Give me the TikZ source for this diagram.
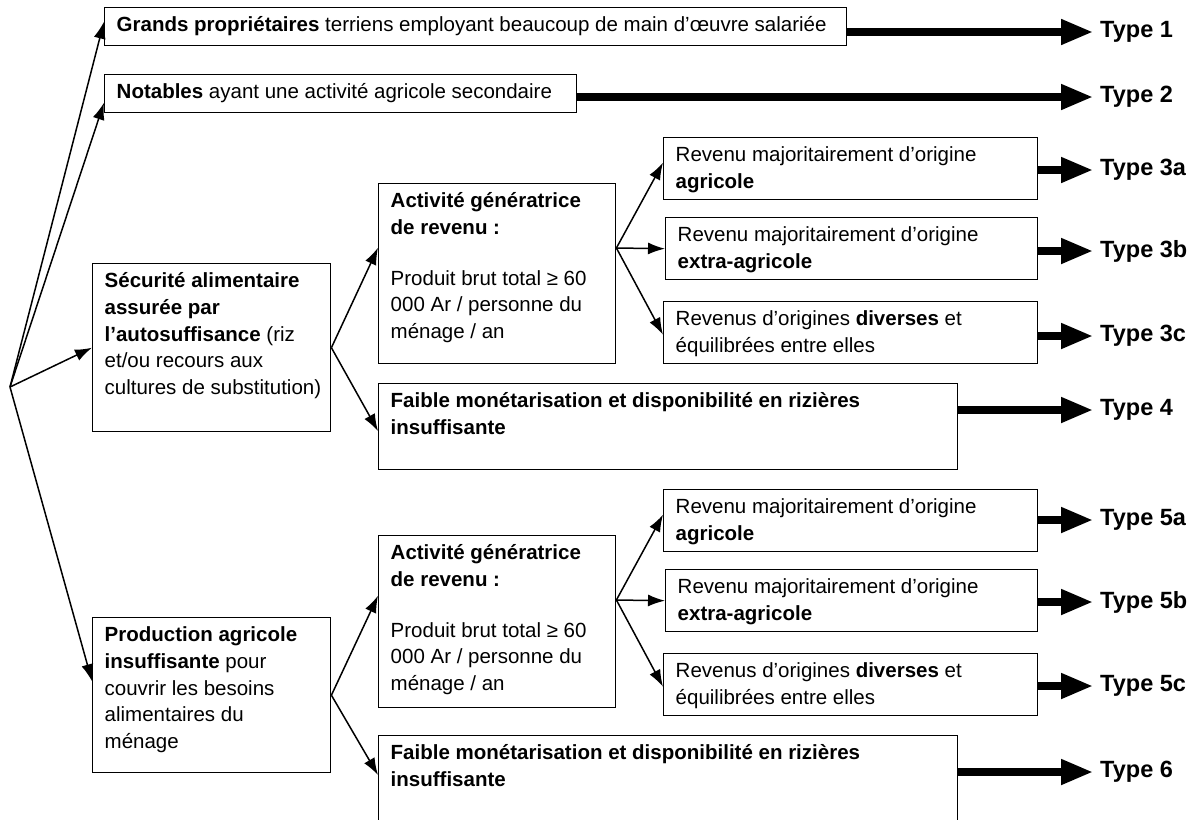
\documentclass[tikz,border=0pt]{standalone}
\usepackage{fontspec}
\setmainfont{Liberation Sans}
\usetikzlibrary{arrows.meta}

% top aligned text inside a box of fixed size
\newcommand{\cellbox}[3]{\parbox[t][#2][t]{#1}{\raggedright\rule{0pt}{19pt}#3}}

\begin{document}
\begin{tikzpicture}[x=1pt, y=-1pt,
    box/.style={draw, line width=1.4pt, anchor=north west, inner xsep=12pt, inner ysep=5pt,
        font=\fontsize{20.5}{26.7}\selectfont},
    branch/.style={-{Latex[length=17pt,width=12pt]}, line width=1.5pt},
    fat/.style={-{Triangle[length=32pt,width=24pt]}, line width=7.5pt},
    typelabel/.style={anchor=west, inner sep=0pt, font=\bfseries\fontsize{23.5}{28}\selectfont}]
    \useasboundingbox (0,0) rectangle (1198,819);

    \coordinate (root) at (10,387);

    \node[box] (grands) at (104,7) {\cellbox{718pt}{28pt}{\textbf{Grands propriétaires} terriens employant beaucoup de main d’œuvre salariée}};
    \node[box] (notables) at (104,74) {\cellbox{448pt}{28pt}{\textbf{Notables} ayant une activité agricole secondaire}};

    \node[box] (secu) at (92,263) {\cellbox{214pt}{158pt}{\textbf{Sécurité alimentaire}\\ \textbf{assurée par}\\ \textbf{l’autosuffisance} (riz\\ et/ou recours aux\\ \mbox{cultures de substitution)}}};
    \node[box] (prod) at (92,617) {\cellbox{214pt}{145pt}{\textbf{Production agricole}\\ \textbf{insuffisante} pour\\ couvrir les besoins\\ alimentaires du\\ ménage}};

    \node[box] (act1) at (378,183) {\cellbox{213pt}{170pt}{\textbf{Activité génératrice}\\ \textbf{de revenu~:}\\[24pt] Produit brut total ≥ 60\\ 000 Ar / personne du\\ ménage / an}};
    \node[box] (faible1) at (378,383) {\cellbox{555pt}{76pt}{\textbf{Faible monétarisation et disponibilité en rizières}\\ \textbf{insuffisante}}};
    \node[box] (act2) at (378,535) {\cellbox{213pt}{162pt}{\textbf{Activité génératrice}\\ \textbf{de revenu~:}\\[24pt] Produit brut total ≥ 60\\ 000 Ar / personne du\\ ménage / an}};
    \node[box] (faible2) at (378,735) {\cellbox{555pt}{100pt}{\textbf{Faible monétarisation et disponibilité en rizières}\\ \textbf{insuffisante}}};

    \node[box] (rev3a) at (663,137) {\cellbox{350pt}{52pt}{Revenu majoritairement d’origine\\ \textbf{agricole}}};
    \node[box] (rev3b) at (665,217) {\cellbox{348pt}{52pt}{Revenu majoritairement d’origine\\ \textbf{extra-agricole}}};
    \node[box] (rev3c) at (663,301) {\cellbox{350pt}{52pt}{Revenus d’origines \textbf{diverses} et\\ équilibrées entre elles}};
    \node[box] (rev5a) at (663,489) {\cellbox{350pt}{52pt}{Revenu majoritairement d’origine\\ \textbf{agricole}}};
    \node[box] (rev5b) at (665,569) {\cellbox{348pt}{52pt}{Revenu majoritairement d’origine\\ \textbf{extra-agricole}}};
    \node[box] (rev5c) at (663,653) {\cellbox{350pt}{52pt}{Revenus d’origines \textbf{diverses} et\\ équilibrées entre elles}};

    \node[typelabel] (t1) at (1100,32) {Type 1};
    \node[typelabel] (t2) at (1100,97) {Type 2};
    \node[typelabel] (t3a) at (1100,170) {Type 3a};
    \node[typelabel] (t3b) at (1100,251) {Type 3b};
    \node[typelabel] (t3c) at (1100,336) {Type 3c};
    \node[typelabel] (t4) at (1100,410) {Type 4};
    \node[typelabel] (t5a) at (1100,520) {Type 5a};
    \node[typelabel] (t5b) at (1100,602) {Type 5b};
    \node[typelabel] (t5c) at (1100,686) {Type 5c};
    \node[typelabel] (t6) at (1100,772) {Type 6};

    % root -> first level
    \draw[branch] (root) -- ([yshift=5pt]grands.west);
    \draw[branch] (root) -- ([yshift=-9pt]notables.west);
    \draw[branch] (root) -- (secu.west);
    \draw[branch] (root) -- ([yshift=14pt]prod.west);

    % secu -> act1, faible1
    \draw[branch] (secu.east) -- ([yshift=26pt]act1.west);
    \draw[branch] (secu.east) -- ([yshift=-48pt]faible1.north west);

    % prod -> act2, faible2
    \draw[branch] (prod.east) -- ([yshift=26pt]act2.west);
    \draw[branch] (prod.east) -- ([yshift=-40pt]faible2.north west);

    % act1 -> 3a, 3b, 3c
    \coordinate (b1) at ([yshift=-65pt]act1.north east);
    \draw[branch] (b1) -- ([yshift=6pt]rev3a.west);
    \draw[branch] (b1) -- (rev3b.west);
    \draw[branch] (b1) -- ([yshift=-2pt]rev3c.west);

    % act2 -> 5a, 5b, 5c
    \coordinate (b2) at ([yshift=-65pt]act2.north east);
    \draw[branch] (b2) -- ([yshift=6pt]rev5a.west);
    \draw[branch] (b2) -- (rev5b.west);
    \draw[branch] (b2) -- ([yshift=-2pt]rev5c.west);

    % boxes -> types
    \draw[fat] (grands.east |- t1.west) -- ([xshift=-7pt]t1.west);
    \draw[fat] (notables.east |- t2.west) -- ([xshift=-7pt]t2.west);
    \draw[fat] (rev3a.east |- t3a.west) -- ([xshift=-7pt]t3a.west);
    \draw[fat] (rev3b.east |- t3b.west) -- ([xshift=-7pt]t3b.west);
    \draw[fat] (rev3c.east |- t3c.west) -- ([xshift=-7pt]t3c.west);
    \draw[fat] (faible1.east |- t4.west) -- ([xshift=-7pt]t4.west);
    \draw[fat] (rev5a.east |- t5a.west) -- ([xshift=-7pt]t5a.west);
    \draw[fat] (rev5b.east |- t5b.west) -- ([xshift=-7pt]t5b.west);
    \draw[fat] (rev5c.east |- t5c.west) -- ([xshift=-7pt]t5c.west);
    \draw[fat] (faible2.east |- t6.west) -- ([xshift=-7pt]t6.west);
\end{tikzpicture}
\end{document}
